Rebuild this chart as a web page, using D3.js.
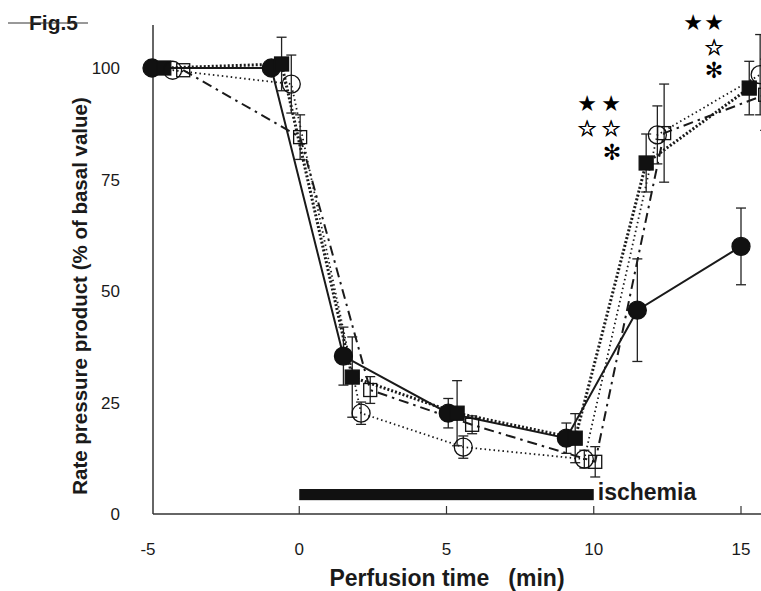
<!DOCTYPE html>
<html>
<head>
<meta charset="utf-8">
<script src="https://cdnjs.cloudflare.com/ajax/libs/d3/7.8.5/d3.min.js"></script>
<style>
  body { margin: 0; background: #fff; }
  text { fill: #1a1a1a; }
</style>
</head>
<body>
<svg id="chart" width="761" height="591"></svg>

<script>
  // time (min), value (% of basal), SEM for each group
  var circleFilledX = [-5, -0.95, 1.5, 5.06, 9.07, 11.48, 15.0];
  var circleFilledY = [100, 100, 35.4, 22.6, 17, 45.7, 60];
  var circleFilledE = [0, 0, 6.5, 3.3, 3.4, 11.5, 8.6];

  var squareFilledX = [-4.6, -0.6, 1.8, 5.36, 9.37, 11.78, 15.28];
  var squareFilledY = [100, 100.9, 30.7, 22.6, 17, 78.7, 95.5];
  var squareFilledE = [0, 6, 9, 7.3, 5.5, 6.5, 6];

  var circleOpenX = [-4.3, -0.27, 2.1, 5.57, 9.68, 12.16, 15.65];
  var circleOpenY = [99.5, 96.4, 22.6, 15, 12.3, 85, 98.5];
  var circleOpenE = [0, 6.5, 2.5, 2.5, 2, 6.5, 9];

  var squareOpenX = [-3.94, 0.03, 2.41, 5.87, 10.05, 12.39, 15.82];
  var squareOpenY = [99.5, 84.5, 27.8, 20, 11.7, 85.4, 94];
  var squareOpenE = [0, 5, 3, 2, 3.4, 11, 8];

  var xTicks = [-5, 0, 5, 10, 15];
  var yTicks = [0, 25, 50, 75, 100];
  var ischemia = [0, 10];

  var svg = d3.select('#chart');
  var x = d3.scaleLinear().domain([-5, 15]).range([152, 741]);
  var y = d3.scaleLinear().domain([0, 100]).range([514, 68]);

  var condensed = '"Liberation Sans Narrow", "Arial Narrow", "Liberation Sans", sans-serif';

  // axes lines
  svg.append('line').attr('x1', 153).attr('x2', 761).attr('y1', y(0)).attr('y2', y(0))
    .attr('stroke', '#333').attr('stroke-width', 1.5);
  svg.append('line').attr('x1', 153).attr('x2', 153).attr('y1', y(0)).attr('y2', 25)
    .attr('stroke', '#333').attr('stroke-width', 1.5);

  // x ticks point inward
  svg.selectAll('.xtick').data(xTicks.slice(1)).enter().append('line')
    .attr('x1', function(d) { return x(d); }).attr('x2', function(d) { return x(d); })
    .attr('y1', y(0)).attr('y2', y(0) - 8)
    .attr('stroke', '#333').attr('stroke-width', 1.2);

  svg.selectAll('.xlab').data(xTicks).enter().append('text')
    .attr('x', function(d) { return x(d) - (d < 0 ? 4 : 0); }).attr('y', 555)
    .attr('text-anchor', 'middle')
    .style('font-family', '"Liberation Sans", sans-serif').style('font-size', '17px')
    .text(function(d) { return d; });

  svg.selectAll('.ylab').data(yTicks).enter().append('text')
    .attr('x', 120).attr('y', function(d) { return y(d) + 6; })
    .attr('text-anchor', 'end')
    .style('font-family', '"Liberation Sans", sans-serif').style('font-size', '17px')
    .text(function(d) { return d; });

  svg.append('text').attr('transform', 'translate(87,296) rotate(-90)')
    .attr('text-anchor', 'middle')
    .style('font-family', '"Liberation Sans", sans-serif').style('font-weight', 'bold').style('font-size', '20.5px')
    .text('Rate pressure product (% of basal value)');

  svg.append('text').attr('x', 447).attr('y', 586)
    .attr('text-anchor', 'middle')
    .style('font-family', condensed).style('font-weight', 'bold').style('font-size', '23px')
    .attr('xml:space', 'preserve')
    .text('Perfusion time   (min)');

  // Fig label with strike line
  svg.append('text').attr('x', 29).attr('y', 30)
    .style('font-family', '"Liberation Sans", sans-serif').style('font-weight', 'bold').style('font-size', '21px')
    .text('Fig.5');
  svg.append('line').attr('x1', 8).attr('x2', 88).attr('y1', 23).attr('y2', 23)
    .attr('stroke', '#333').attr('stroke-width', 1);

  // ischemia bar
  svg.append('rect').attr('x', x(ischemia[0])).attr('width', x(ischemia[1]) - x(ischemia[0]))
    .attr('y', y(5.6)).attr('height', y(3.1) - y(5.6)).attr('fill', '#111');
  svg.append('text').attr('x', x(ischemia[1]) + 4).attr('y', 500)
    .style('font-family', condensed).style('font-weight', 'bold').style('font-size', '23px')
    .text('ischemia');

  var series = [
    { xs: circleFilledX, ys: circleFilledY, es: circleFilledE, shape: 'circle', fill: '#111', dash: null, w: 2 },
    { xs: squareFilledX, ys: squareFilledY, es: squareFilledE, shape: 'square', fill: '#111', dash: '2,2', w: 3 },
    { xs: circleOpenX, ys: circleOpenY, es: circleOpenE, shape: 'circle', fill: 'none', dash: '1.5,3', w: 1.8 },
    { xs: squareOpenX, ys: squareOpenY, es: squareOpenE, shape: 'square', fill: 'none', dash: '10,5,2.5,5', w: 2 }
  ];

  var line = d3.line().x(function(d) { return x(d[0]); }).y(function(d) { return y(d[1]); });

  series.forEach(function(s) {
    var pts = s.xs.map(function(v, i) { return [v, s.ys[i], s.es[i]]; });
    svg.append('path').datum(pts).attr('d', line)
      .attr('fill', 'none').attr('stroke', '#1a1a1a').attr('stroke-width', s.w)
      .attr('stroke-dasharray', s.dash);
  });

  series.forEach(function(s) {
    var pts = s.xs.map(function(v, i) { return [v, s.ys[i], s.es[i]]; }).filter(function(d) { return d[2] > 0; });
    var g = svg.append('g').attr('stroke', '#222').attr('stroke-width', 1.3);
    g.selectAll('.bar').data(pts).enter().append('line')
      .attr('x1', function(d) { return x(d[0]); }).attr('x2', function(d) { return x(d[0]); })
      .attr('y1', function(d) { return y(d[1] + d[2]); }).attr('y2', function(d) { return y(d[1] - d[2]); });
    [1, -1].forEach(function(sg) {
      g.selectAll('.cap' + sg).data(pts).enter().append('line')
        .attr('x1', function(d) { return x(d[0]) - 5; }).attr('x2', function(d) { return x(d[0]) + 5; })
        .attr('y1', function(d) { return y(d[1] + sg * d[2]); }).attr('y2', function(d) { return y(d[1] + sg * d[2]); });
    });
  });

  series.forEach(function(s) {
    var pts = s.xs.map(function(v, i) { return [v, s.ys[i]]; });
    var g = svg.append('g');
    if (s.shape === 'circle') {
      g.selectAll('circle').data(pts).enter().append('circle')
        .attr('cx', function(d) { return x(d[0]); }).attr('cy', function(d) { return y(d[1]); })
        .attr('r', 9).attr('fill', s.fill).attr('stroke', '#111').attr('stroke-width', 1.3);
    } else {
      var h = s.fill === 'none' ? 6.5 : 7;
      g.selectAll('rect').data(pts).enter().append('rect')
        .attr('x', function(d) { return x(d[0]) - h; }).attr('y', function(d) { return y(d[1]) - h; })
        .attr('width', 2 * h).attr('height', 2 * h)
        .attr('fill', s.fill).attr('stroke', '#111').attr('stroke-width', 1.3);
    }
  });

  // significance marks
  var marks = [
    { x: 587, y: 103, t: '★' }, { x: 611, y: 103, t: '★' },
    { x: 587, y: 128, t: '☆' }, { x: 611, y: 128, t: '☆' },
    { x: 612, y: 152, t: '✻' },
    { x: 693, y: 22, t: '★' }, { x: 714, y: 22, t: '★' },
    { x: 714, y: 47, t: '☆' },
    { x: 714, y: 70, t: '✻' }
  ];
  svg.selectAll('.mark').data(marks).enter().append('text')
    .attr('x', function(d) { return d.x; }).attr('y', function(d) { return d.y + 8; })
    .attr('text-anchor', 'middle')
    .style('font-family', '"DejaVu Sans", sans-serif')
    .style('font-size', '22px')
    .style('fill', '#000').style('stroke', function(d) { return d.t === '☆' ? '#000' : 'none'; })
    .style('stroke-width', 0.6)
    .style('font-weight', function(d) { return d.t === '✻' ? 'bold' : 'normal'; })
    .text(function(d) { return d.t; });
</script>
</body>
</html>
